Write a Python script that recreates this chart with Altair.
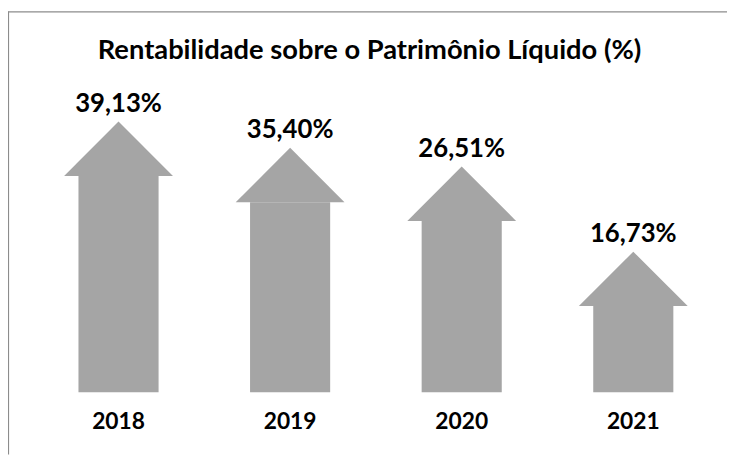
import altair as alt
import pandas as pd

# ---- data ----
years = ["2018", "2019", "2020", "2021"]
roe_labels = ["39,13%", "35,40%", "26,51%", "16,73%"]
roe_values = [39.13, 35.40, 26.51, 16.73]
# length of each arrow as drawn in the picture, in % units
arrow_tip = [39.1, 35.3, 32.6, 20.3]
title_text = "Rentabilidade sobre o Patrimônio Líquido (%)"

df = pd.DataFrame({"year": years, "label": roe_labels, "value": roe_values, "tip": arrow_tip})
title_df = pd.DataFrame({"t": [title_text]})
one = pd.DataFrame({"a": [0]})

# ---- style ----
FONT = "Lato"
GRAY = "#a5a5a5"
BORDER = "#8c8c8c"
PX_PER_UNIT = 7.0
PLOT_W, PLOT_H = 727, 386
HEAD_PX = 55

yscale = alt.Scale(domain=[0, PLOT_H / PX_PER_UNIT], nice=False, zero=True)
xscale = alt.Scale(range=[25, 719], paddingInner=0, paddingOuter=0)
xaxis = alt.Axis(title=None, domain=False, ticks=False, grid=False,
                 labelAngle=0, labelFont=FONT, labelFontWeight="bold",
                 labelFontSize=23, labelColor="#000000",
                 labelBaseline="alphabetic", labelPadding=37)
X = alt.X("year:N", scale=xscale, sort=years, axis=xaxis)

base = alt.Chart(df).transform_calculate(
    shoulder=f"datum.tip - {HEAD_PX / PX_PER_UNIT}"
)

shaft = base.mark_bar(size=81, color=GRAY).encode(
    x=X,
    y=alt.Y("shoulder:Q", scale=yscale, axis=None),
)

head = base.mark_point(
    shape="M0,-1L1,0L-1,0Z", size=HEAD_PX * HEAD_PX * 4, filled=True,
    color=GRAY, opacity=1, strokeWidth=0,
).encode(
    x=X,
    y=alt.Y("shoulder:Q", scale=yscale, axis=None),
)

labels = base.mark_text(
    font=FONT, fontWeight="bold", fontSize=26, baseline="alphabetic",
    align="center", dy=-10, color="#000000",
).encode(
    x=X,
    y=alt.Y("tip:Q", scale=yscale, axis=None),
    text="label:N",
)

title = alt.Chart(title_df).mark_text(
    font=FONT, fontWeight="bold", fontSize=27.6, baseline="alphabetic",
    align="center", color="#000000",
).encode(x=alt.value(365.5), y=alt.value(49), text="t:N")

top_border = alt.Chart(one).mark_rule(color=BORDER, strokeWidth=1.2).encode(
    x=alt.value(-1), x2=alt.value(PLOT_W), y=alt.value(1.5)
)
left_border = alt.Chart(one).mark_rule(color=BORDER, strokeWidth=1.2).encode(
    x=alt.value(0.5), y=alt.value(1), y2=alt.value(449)
)

chart = alt.layer(shaft, head, labels, title, top_border, left_border).properties(
    width=PLOT_W, height=PLOT_H,
    autosize=alt.AutoSizeParams(type="none"),
    padding={"left": 0, "top": 0, "right": 0, "bottom": 63},
    background="#ffffff",
).configure_view(stroke="transparent")

chart.save("out.html", embed_options={"renderer": "svg", "actions": False})
